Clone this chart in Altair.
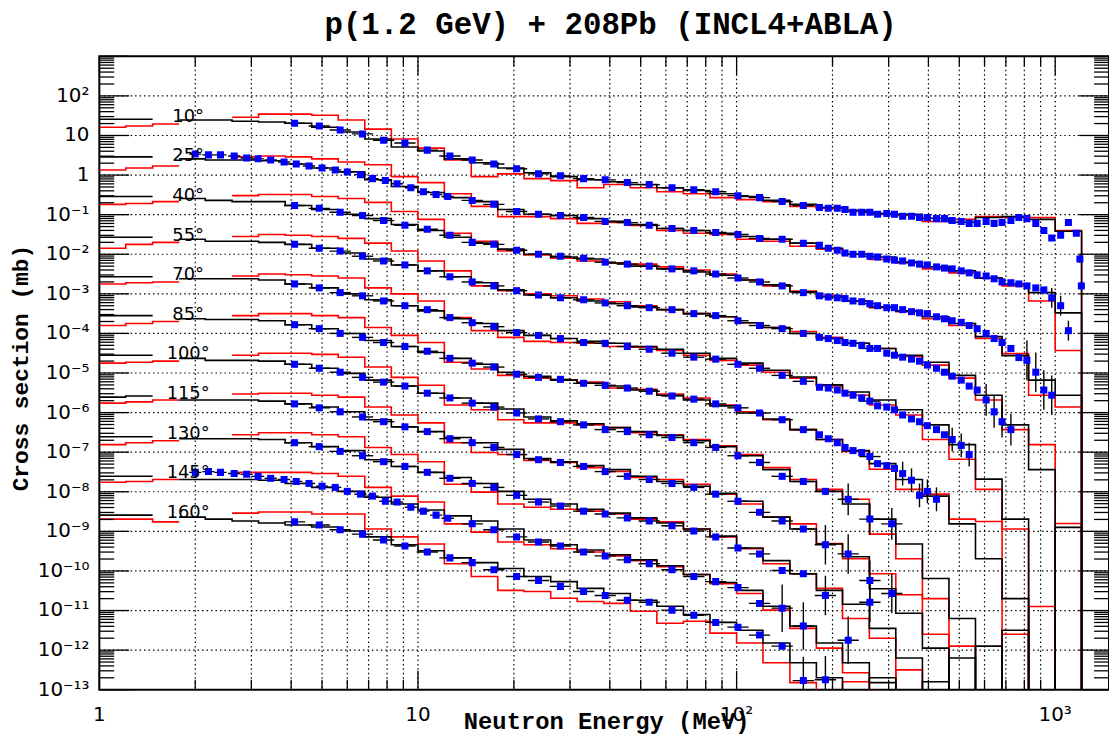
import altair as alt
import pandas as pd

# ---------------- data ----------------
angles = [10, 25, 40, 55, 70, 85, 100, 115, 130, 145, 160]
decade_shift = [0, -1, -2, -3, -4, -5, -6, -7, -8, -9, -10]   # each angle scaled by 10^shift

# histogram bin edges (MeV)
bin_edges = [1.0, 1.21, 1.47, 1.78, 2.15, 2.61, 3.16, 3.83, 4.64, 5.62, 6.81, 8.25,
             10.0, 12.1, 14.7, 17.8, 21.5, 26.1, 31.6, 38.3, 46.4, 56.2, 68.1, 82.5,
             100.0, 121, 147, 178, 215, 261, 316, 383, 464, 562, 681, 825, 1000, 1210]

EMPTY = -99  # log10 content of an empty bin
N = None     # bin not drawn

# black histograms: log10 of unscaled cross section (mb) per bin
black_log = [
    [1.41, 1.41, N, 1.39, 1.39, 1.36, 1.34, 1.31, 1.21, 1.09, 0.91, 0.71, 0.61, 0.41, 0.31, 0.18, 0.06, -0.04, -0.12, -0.17, -0.24, -0.32, -0.39, -0.47, -0.54, -0.64, -0.74, -0.82, -0.89, -0.97, -0.99, -1.09, -1.19, -1.07, -1.05, -1.12, -1.42],
    [1.46, 1.46, N, 1.41, 1.38, 1.38, 1.36, 1.28, 1.18, 1.08, 0.88, 0.71, 0.56, 0.43, 0.33, 0.13, 0.01, -0.02, -0.10, -0.17, -0.25, -0.35, -0.40, -0.47, -0.55, -0.62, -0.72, -0.85, -1.00, -1.07, -1.20, -1.32, -1.42, -1.60, -1.75, -1.97, -2.48],
    [1.46, 1.46, N, 1.41, 1.36, 1.33, 1.33, 1.23, 1.13, 1.01, 0.90, 0.75, 0.60, 0.43, 0.28, 0.13, 0.00, -0.07, -0.12, -0.22, -0.30, -0.37, -0.45, -0.53, -0.65, -0.77, -0.95, -1.08, -1.18, -1.33, -1.43, -1.58, -1.75, -2.08, -2.56, -3.18, -3.56],
    [1.43, 1.43, N, 1.38, 1.33, 1.33, 1.30, 1.25, 1.15, 1.03, 0.88, 0.73, 0.58, 0.43, 0.28, 0.10, -0.03, -0.10, -0.18, -0.25, -0.33, -0.40, -0.50, -0.58, -0.73, -0.85, -1.00, -1.13, -1.25, -1.38, -1.55, -1.73, -2.06, -2.56, -3.31, -4.44, EMPTY],
    [1.43, 1.43, N, 1.38, 1.38, 1.38, 1.35, 1.25, 1.15, 1.00, 0.85, 0.70, 0.57, 0.37, 0.25, 0.07, -0.05, -0.13, -0.20, -0.25, -0.33, -0.40, -0.50, -0.63, -0.75, -0.93, -1.10, -1.30, -1.48, -1.68, -1.93, -2.31, -2.81, -3.68, -4.69, EMPTY, -4.9],
    [1.45, 1.45, N, 1.37, 1.35, 1.35, 1.32, 1.22, 1.12, 1.00, 0.82, 0.67, 0.52, 0.37, 0.22, 0.02, -0.08, -0.18, -0.26, -0.33, -0.43, -0.56, -0.68, -0.83, -1.01, -1.16, -1.43, -1.68, -1.96, -2.29, -2.69, -3.11, -3.81, -4.69, -5.70, EMPTY, EMPTY],
    [1.45, 1.45, N, 1.37, 1.32, 1.32, 1.30, 1.22, 1.12, 0.99, 0.82, 0.67, 0.49, 0.37, 0.24, 0.09, -0.11, -0.21, -0.28, -0.38, -0.48, -0.58, -0.71, -0.86, -1.09, -1.44, -1.74, -1.99, -2.31, -2.69, -3.32, -4.19, -5.20, EMPTY, -5.5, EMPTY, EMPTY],
    [1.39, 1.42, N, 1.32, 1.32, 1.32, 1.29, 1.22, 1.14, 1.02, 0.82, 0.64, 0.52, 0.37, 0.24, 0.07, -0.16, -0.24, -0.34, -0.44, -0.61, -0.74, -0.86, -1.04, -1.24, -1.64, -1.94, -2.32, -2.64, -3.45, -4.07, -4.95, EMPTY, -4.9, EMPTY, EMPTY, EMPTY],
    [1.39, 1.39, N, 1.34, 1.34, 1.34, 1.32, 1.24, 1.14, 1.04, 0.81, 0.64, 0.49, 0.36, 0.21, 0.01, -0.19, -0.31, -0.44, -0.54, -0.66, -0.79, -0.94, -1.12, -1.42, -1.74, -2.07, -2.49, -2.84, -3.45, -4.20, EMPTY, -4.2, EMPTY, EMPTY, EMPTY, EMPTY],
    [1.39, 1.39, N, 1.31, 1.31, 1.31, 1.29, 1.21, 1.11, 1.01, 0.86, 0.69, 0.54, 0.39, 0.26, 0.06, -0.22, -0.34, -0.47, -0.59, -0.72, -0.87, -1.09, -1.29, -1.49, -1.89, -2.39, -2.82, -3.32, -3.82, EMPTY, -3.8, EMPTY, EMPTY, EMPTY, EMPTY, EMPTY],
    [1.41, 1.41, N, 1.36, 1.31, 1.26, 1.21, 1.16, 1.11, 1.01, 0.86, 0.66, 0.51, 0.33, 0.21, 0.06, -0.14, -0.27, -0.44, -0.57, -0.74, -0.89, -1.10, -1.30, -1.50, -1.82, -2.32, -2.70, EMPTY, -2.7, EMPTY, EMPTY, EMPTY, EMPTY, EMPTY, EMPTY, EMPTY],
]

# red histograms: log10 of unscaled cross section (mb) per bin
red_log = [
    [1.21, 1.24, 1.29, N, N, 1.46, 1.54, 1.54, 1.51, 1.39, 1.16, 0.91, 0.68, 0.38, -0.04, 0.03, -0.09, -0.14, -0.32, -0.24, -0.32, -0.42, -0.47, -0.57, -0.62, -0.67, -0.79, -0.84, -0.92, -0.97, -1.02, -1.17, -1.12, -1.05, -1.07, -1.07, -1.40],
    [1.13, 1.18, 1.23, N, N, 1.46, 1.48, 1.46, 1.41, 1.33, 1.26, 0.96, 0.81, 0.53, 0.21, -0.05, -0.05, -0.10, -0.22, -0.20, -0.27, -0.40, -0.47, -0.50, -0.62, -0.67, -0.80, -0.87, -1.00, -1.13, -1.22, -1.37, -1.47, -1.60, -1.80, -2.18, -3.43],
    [1.26, 1.28, 1.33, N, N, 1.48, 1.51, 1.51, 1.46, 1.41, 1.31, 1.08, 0.88, 0.53, 0.33, 0.08, -0.02, -0.10, -0.17, -0.22, -0.25, -0.32, -0.40, -0.50, -0.65, -0.80, -0.93, -1.05, -1.18, -1.35, -1.45, -1.63, -1.80, -2.13, -2.51, -3.56, -3.86],
    [1.15, 1.25, 1.30, N, N, 1.45, 1.50, 1.48, 1.45, 1.40, 1.28, 1.08, 0.83, 0.58, 0.20, 0.08, 0.00, -0.05, -0.13, -0.20, -0.30, -0.40, -0.50, -0.58, -0.73, -0.85, -0.95, -1.10, -1.25, -1.38, -1.58, -1.80, -2.13, -2.68, -3.43, -3.81, EMPTY],
    [1.25, 1.28, 1.30, N, N, 1.45, 1.50, 1.48, 1.45, 1.40, 1.15, 1.00, 0.82, 0.40, 0.07, -0.10, -0.20, -0.23, -0.25, -0.33, -0.35, -0.43, -0.55, -0.68, -0.80, -0.98, -1.13, -1.33, -1.56, -1.81, -2.06, -2.68, -3.18, -3.94, -4.94, EMPTY, -4.8],
    [1.20, 1.25, 1.30, N, N, 1.45, 1.50, 1.50, 1.45, 1.40, 1.15, 0.95, 0.77, 0.27, 0.10, -0.06, -0.13, -0.18, -0.23, -0.38, -0.41, -0.53, -0.63, -0.81, -0.98, -1.18, -1.43, -1.68, -1.98, -2.43, -2.94, -3.06, -3.69, -3.75, EMPTY, EMPTY, EMPTY],
    [1.25, 1.27, 1.30, N, N, 1.45, 1.50, 1.50, 1.47, 1.40, 1.15, 0.89, 0.69, 0.19, 0.07, -0.18, -0.26, -0.26, -0.31, -0.38, -0.51, -0.56, -0.68, -0.84, -1.06, -1.39, -1.69, -1.94, -2.19, -3.07, -3.69, -4.70, EMPTY, EMPTY, EMPTY, -4.9, EMPTY],
    [1.24, 1.27, 1.32, N, N, 1.47, 1.49, 1.49, 1.44, 1.39, 1.14, 0.94, 0.74, 0.24, -0.01, -0.06, -0.21, -0.26, -0.39, -0.49, -0.64, -0.69, -0.81, -1.06, -1.31, -1.64, -1.81, -2.31, -2.69, -3.07, -3.60, -4.60, EMPTY, EMPTY, -4.6, EMPTY, EMPTY],
    [1.19, 1.24, 1.29, N, N, 1.44, 1.49, 1.49, 1.44, 1.39, 1.12, 0.94, 0.76, 0.19, -0.01, -0.31, -0.39, -0.44, -0.49, -0.56, -0.69, -0.76, -0.94, -1.14, -1.44, -1.82, -2.07, -2.44, -3.20, -3.70, EMPTY, EMPTY, -3.9, EMPTY, EMPTY, EMPTY, EMPTY],
    [1.24, 1.26, 1.31, N, N, 1.49, 1.49, 1.49, 1.46, 1.39, 1.11, 0.89, 0.74, 0.19, -0.02, -0.27, -0.34, -0.44, -0.52, -0.62, -0.74, -0.89, -1.09, -1.32, -1.57, -1.99, -2.45, -2.95, -3.57, EMPTY, -3.5, EMPTY, EMPTY, EMPTY, EMPTY, EMPTY, EMPTY],
    [1.31, 1.31, 1.24, N, N, 1.46, 1.49, 1.49, 1.44, 1.44, 1.06, 0.86, 0.68, 0.18, -0.14, -0.49, -0.52, -0.69, -0.77, -0.82, -1.02, -1.32, -1.27, -1.57, -1.82, -2.32, -2.82, EMPTY, -2.8, EMPTY, EMPTY, EMPTY, EMPTY, EMPTY, EMPTY, EMPTY, EMPTY],
]

# measured points: energies (MeV)
E_low = [2.0, 2.2, 2.4, 2.65, 2.9, 3.15, 3.45, 3.8, 4.15, 4.55, 5.0, 5.5, 6.0, 6.6, 7.2,
         7.9, 8.6, 9.5, 10.4, 11.4, 12.4]
E_reg = [4.1, 4.9, 5.7, 6.7, 7.8, 9.1, 10.7, 12.6, 14.8, 17.3, 20.4, 23.9, 28.0, 33.1,
         38.7, 45.4, 53.2, 62.7, 73.4, 86.0, 101, 118, 139, 162]
E_hi = [182, 194, 207, 219, 232, 247, 262, 277, 296, 313, 332, 354, 375, 397, 424, 449,
        475, 507, 537, 569, 607, 643, 681, 726, 769, 815, 869, 921, 975, 1040, 1100,
        1165, 1195, 1208]
E_tail = [190, 224, 262, 307]

point_E = [
    E_reg + E_hi,
    E_low + E_reg[8:] + E_hi[:31],
    E_reg + E_hi[:29],
    E_reg + E_hi[:24],
    E_reg + E_hi[:19],
    E_reg + E_hi[:15],
    E_reg + E_tail,
    E_reg + E_tail,
    E_reg + [190, 262],
    E_low + E_reg[8:] + [224],
    E_reg + [190],
]
# measured points: log10 of unscaled cross section (mb)
point_log = [
    [1.31, 1.24, 1.14, 1.04, 0.88, 0.81, 0.63, 0.48, 0.38, 0.28, 0.16, 0.03, -0.02, -0.09, -0.12, -0.19, -0.24, -0.32, -0.37, -0.42, -0.52, -0.57, -0.67, -0.77,
     -0.82, -0.84, -0.84, -0.87, -0.94, -0.94, -0.94, -0.99, -0.97, -0.99, -1.04, -1.04, -1.07, -1.07, -1.10, -1.10, -1.15, -1.17, -1.22, -1.22,
     -1.17, -1.22, -1.20, -1.15, -1.07, -1.10, -1.22, -1.40, -1.59, -1.52, -1.20, -1.47, -2.12, -2.80],
    [1.53, 1.51, 1.51, 1.48, 1.43, 1.41, 1.38, 1.33, 1.28, 1.23, 1.18, 1.13, 1.08, 1.01, 0.91, 0.86, 0.78, 0.68, 0.58, 0.51, 0.46,
     0.36, 0.26, 0.08, 0.01, -0.02, -0.07, -0.17, -0.20, -0.27, -0.35, -0.40, -0.45, -0.50, -0.60, -0.62, -0.72,
     -0.77, -0.85, -0.90, -0.97, -1.00, -1.00, -1.05, -1.07, -1.12, -1.15, -1.17, -1.22, -1.25, -1.27, -1.32, -1.35, -1.37, -1.42, -1.47, -1.52,
     -1.55, -1.62, -1.70, -1.72, -1.75, -1.80, -1.85, -1.90, -2.10, -2.30, -2.93],
    [1.23, 1.16, 1.06, 0.98, 0.85, 0.73, 0.63, 0.48, 0.30, 0.25, 0.10, 0.00, -0.05, -0.10, -0.20, -0.25, -0.30, -0.37, -0.42, -0.50, -0.60, -0.70, -0.80, -0.97,
     -1.05, -1.08, -1.10, -1.12, -1.18, -1.20, -1.25, -1.30, -1.35, -1.35, -1.40, -1.45, -1.48, -1.50, -1.58, -1.63, -1.68, -1.72, -1.80, -1.88,
     -2.00, -2.13, -2.23, -2.38, -2.61, -2.68, -2.98, -3.43, -3.56],
    [1.25, 1.15, 1.08, 0.95, 0.83, 0.73, 0.58, 0.43, 0.30, 0.20, 0.08, -0.03, -0.10, -0.15, -0.23, -0.30, -0.35, -0.40, -0.50, -0.55, -0.68, -0.80, -0.88, -1.00,
     -1.10, -1.13, -1.18, -1.23, -1.25, -1.30, -1.38, -1.38, -1.50, -1.55, -1.60, -1.65, -1.70, -1.80, -1.88, -1.98, -2.08, -2.18, -2.33, -2.43,
     -2.68, -2.98, -3.23, -3.43],
    [1.25, 1.15, 1.03, 0.95, 0.82, 0.70, 0.60, 0.40, 0.27, 0.17, 0.02, -0.05, -0.13, -0.23, -0.25, -0.33, -0.40, -0.50, -0.60, -0.65, -0.78, -0.88, -1.06, -1.21,
     -1.36, -1.38, -1.43, -1.51, -1.56, -1.63, -1.71, -1.83, -1.86, -1.93, -2.06, -2.16, -2.23, -2.33, -2.43, -2.56, -2.68, -2.83, -3.06],
    [1.22, 1.12, 1.00, 0.90, 0.77, 0.67, 0.55, 0.37, 0.25, 0.15, -0.03, -0.11, -0.16, -0.26, -0.31, -0.38, -0.46, -0.58, -0.66, -0.78, -0.88, -1.01, -1.18, -1.43,
     -1.56, -1.66, -1.76, -1.88, -1.96, -2.01, -2.11, -2.29, -2.34, -2.41, -2.54, -2.71, -3.09, -2.99, -3.19],
    [1.22, 1.12, 1.02, 0.89, 0.77, 0.67, 0.49, 0.37, 0.24, 0.14, -0.01, -0.16, -0.23, -0.31, -0.43, -0.48, -0.56, -0.63, -0.76, -0.88, -1.09, -1.26, -1.61, -1.74,
     -1.99, -2.19, -2.69, -2.81],
    [1.22, 1.12, 1.02, 0.89, 0.77, 0.64, 0.52, 0.34, 0.24, 0.12, -0.06, -0.19, -0.26, -0.36, -0.49, -0.61, -0.69, -0.79, -0.89, -1.06, -1.24, -1.52, -1.74, -1.94,
     -2.34, -2.57, -3.24, -3.57],
    [1.24, 1.14, 1.02, 0.91, 0.76, 0.64, 0.49, 0.34, 0.21, 0.11, -0.09, -0.26, -0.36, -0.49, -0.56, -0.66, -0.74, -0.86, -0.99, -1.14, -1.42, -1.57, -1.99, -2.07,
     -2.62, -2.79],
    [1.49, 1.51, 1.49, 1.46, 1.44, 1.39, 1.34, 1.31, 1.26, 1.21, 1.14, 1.11, 1.01, 0.94, 0.89, 0.76, 0.74, 0.61, 0.51, 0.41, 0.33,
     0.19, 0.04, -0.14, -0.27, -0.37, -0.52, -0.62, -0.72, -0.82, -0.97, -1.14, -1.27, -1.42, -1.82, -1.94, -2.39,
     -2.75],
    [1.24, 1.16, 1.04, 0.93, 0.78, 0.63, 0.48, 0.33, 0.21, 0.03, -0.14, -0.24, -0.39, -0.52, -0.62, -0.74, -0.79, -0.99, -1.12, -1.30, -1.42, -1.62, -1.90, -2.77,
     -2.75],
]
# vertical error bars (decades) on the last points of each angle
yerr_last_n = [2, 3, 4, 4, 3, 5, 3, 4, 2, 3, 2]
yerr_size = [0.1, 0.25, 0.5, 0.4, 0.3, 0.3, 0.4, 0.5, 0.5, 0.6, 0.6]

label_level_log = 1.47   # label height, log10 unscaled mb
label_E = 1.9            # label energy (MeV)

title_text = "p(1.2 GeV) + 208Pb (INCL4+ABLA)"
x_title = "Neutron Energy (MeV)"
y_title = "Cross section (mb)"

# ---------------- build tables ----------------
FLOOR = 1e-30


def hist_rows(vals, shift, angle, model):
    rows = []
    seg = 0
    is_open = False
    last = None
    for k, v in enumerate(vals):
        key = f"{angle}-{model}-{seg}"
        if v is None:
            if is_open:
                rows.append({"E": bin_edges[k], "y": last, "seg": key})
                seg += 1
                is_open = False
            continue
        val = FLOOR if v <= EMPTY + 1 else 10.0 ** (v + shift)
        rows.append({"E": bin_edges[k], "y": val, "seg": key})
        last = val
        is_open = True
    if is_open:
        rows.append({"E": bin_edges[-1], "y": FLOOR, "seg": f"{angle}-{model}-{seg}"})
    return rows


red_rows, black_rows = [], []
for i, a in enumerate(angles):
    red_rows += hist_rows(red_log[i], decade_shift[i], a, "red")
    black_rows += hist_rows(black_log[i], decade_shift[i], a, "black")
red_df = pd.DataFrame(red_rows)
black_df = pd.DataFrame(black_rows)

low_set, reg_set = set(E_low), set(E_reg + E_tail)
pts = []
for i, a in enumerate(angles):
    Es, Ls = point_E[i], point_log[i]
    n = min(len(Es), len(Ls))
    for j in range(n):
        e, L = Es[j], Ls[j] + decade_shift[i]
        f = 1.08 if e in reg_set else (1.045 if e in low_set else 1.02)
        err = yerr_size[i] if j >= n - yerr_last_n[i] else 0.03
        pts.append({"E": e, "y": 10 ** L, "xlo": e / f, "xhi": e * f,
                    "ylo": 10 ** (L - err), "yhi": 10 ** (L + err)})
pts_df = pd.DataFrame(pts)

lab_df = pd.DataFrame({"E": [label_E] * len(angles),
                       "y": [10 ** (label_level_log + s) for s in decade_shift],
                       "t": [f"{a}°" for a in angles]})

# ticks and grid positions
x_minor = [m * 10 ** k for k in range(0, 3) for m in range(2, 10)]
x_major = [1, 10, 100, 1000]
y_major = [10.0 ** k for k in range(-13, 4)]
y_minor = [m * 10.0 ** k for k in range(-13, 3) for m in range(2, 10)]

SUP = {"-": "⁻", "0": "⁰", "1": "¹", "2": "²", "3": "³", "4": "⁴", "5": "⁵",
       "6": "⁶", "7": "⁷", "8": "⁸", "9": "⁹"}


def dec_label(k):
    if k == 0:
        return "1"
    if k == 1:
        return "10"
    return "10" + "".join(SUP[c] for c in str(k))


xlab_df = pd.DataFrame({"E": x_major, "t": [dec_label(k) for k in range(4)]})
ylab_df = pd.DataFrame({"v": [10.0 ** k for k in range(-13, 3)],
                        "t": [dec_label(k) for k in range(-13, 3)]})

W, H = 1017, 638
xscale = alt.Scale(type="log", domain=[1, 1475], nice=False)
yscale = alt.Scale(type="log", domain=[1e-13, 1e3], nice=False)


def X(field):
    return alt.X(field, scale=xscale, axis=None)


def Y(field):
    return alt.Y(field, scale=yscale, axis=None)


# grid (dotted)
xgrid = alt.Chart(pd.DataFrame({"E": x_minor + [10, 100, 1000]})).mark_rule(
    color="black", strokeWidth=1.2, strokeDash=[1.5, 3]).encode(
    x=X("E:Q"), y=alt.value(0), y2=alt.value(H))
ygrid = alt.Chart(pd.DataFrame({"v": [10.0 ** k for k in range(-12, 3)]})).mark_rule(
    color="black", strokeWidth=1.2, strokeDash=[1.5, 3]).encode(
    y=Y("v:Q"), x=alt.value(0), x2=alt.value(W))

red = alt.Chart(red_df).mark_line(interpolate="step-after", clip=True, color="#ff0000",
                                  strokeWidth=1.6).encode(
    x=X("E:Q"), y=Y("y:Q"), detail="seg:N")
black = alt.Chart(black_df).mark_line(interpolate="step-after", clip=True, color="#000000",
                                      strokeWidth=1.6).encode(
    x=X("E:Q"), y=Y("y:Q"), detail="seg:N")
xerr = alt.Chart(pts_df).mark_rule(color="black", strokeWidth=1.4, clip=True).encode(
    x=X("xlo:Q"), x2="xhi:Q", y=Y("y:Q"))
yerr = alt.Chart(pts_df).mark_rule(color="black", strokeWidth=1.4, clip=True).encode(
    x=X("E:Q"), y=Y("ylo:Q"), y2="yhi:Q")
points = alt.Chart(pts_df).mark_square(size=50, color="#0000ff", opacity=1, clip=True).encode(
    x=X("E:Q"), y=Y("y:Q"))
labels = alt.Chart(lab_df).mark_text(align="center", baseline="middle", font="DejaVu Sans",
                                     fontSize=18, color="black").encode(
    x=X("E:Q"), y=Y("y:Q"), text="t:N")


def xticks(vals, y0, y1):
    return alt.Chart(pd.DataFrame({"E": vals})).mark_rule(color="black", strokeWidth=1.3).encode(
        x=X("E:Q"), y=alt.value(y0), y2=alt.value(y1))


def yticks(vals, x0, x1):
    return alt.Chart(pd.DataFrame({"v": vals})).mark_rule(color="black", strokeWidth=1.3).encode(
        y=Y("v:Q"), x=alt.value(x0), x2=alt.value(x1))


ticks = [
    xticks(x_minor, H - 10, H), xticks(x_major, H - 19, H),
    xticks(x_minor, 0, 10), xticks(x_major, 0, 19),
    yticks(y_minor, 0, 15), yticks(y_major, 0, 30),
    yticks(y_minor, W - 15, W), yticks(y_major, W - 30, W),
]

# axis labels and titles as text marks
xlabels = alt.Chart(xlab_df).mark_text(font="DejaVu Sans", fontSize=20, color="black",
                                       align="center", baseline="middle").encode(
    x=X("E:Q"), y=alt.value(H + 26), text="t:N")
ylabels = alt.Chart(ylab_df).mark_text(font="DejaVu Sans", fontSize=20, color="black",
                                       align="right", baseline="middle").encode(
    y=Y("v:Q"), x=alt.value(-10), text="t:N")
text_df = pd.DataFrame({"t": [title_text, x_title, y_title]})
title_mark = alt.Chart(text_df).transform_filter(alt.datum.t == title_text).mark_text(
    font="Liberation Mono", fontWeight="bold", fontSize=31, color="black",
    align="center", baseline="alphabetic").encode(
    x=alt.value(515), y=alt.value(-22), text="t:N")
xtitle_mark = alt.Chart(text_df).transform_filter(alt.datum.t == x_title).mark_text(
    font="Liberation Mono", fontWeight="bold", fontSize=24, color="black",
    align="center", baseline="alphabetic").encode(
    x=alt.value(511), y=alt.value(H + 40), text="t:N")
ytitle_mark = alt.Chart(text_df).transform_filter(alt.datum.t == y_title).mark_text(
    font="Liberation Mono", fontWeight="bold", fontSize=23, color="black",
    align="center", baseline="middle", angle=270).encode(
    x=alt.value(-79), y=alt.value(314), text="t:N")

chart = alt.layer(xgrid, ygrid, red, black, xerr, yerr, points, labels, *ticks,
                  xlabels, ylabels, title_mark, xtitle_mark, ytitle_mark).properties(
    width=W, height=H,
    padding={"left": 92, "top": 46, "right": 0, "bottom": 48},
    autosize=alt.AutoSizeParams(type="none"),
    background="white",
).configure_view(stroke="black", strokeWidth=2)

chart.save("out.html", embed_options={"renderer": "svg", "actions": False})
